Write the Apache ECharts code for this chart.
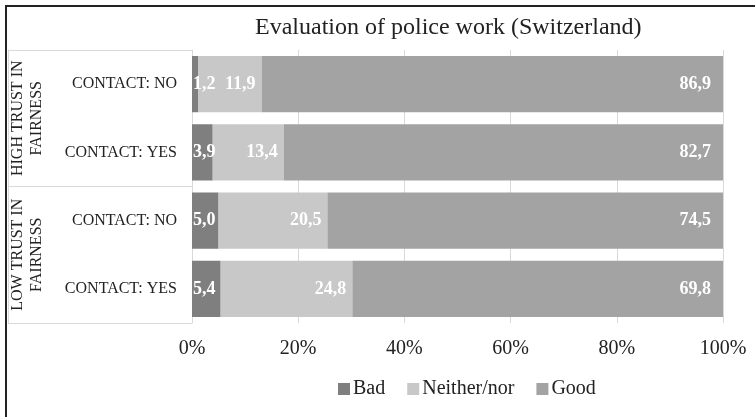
<!DOCTYPE html>
<html>
<head>
<meta charset="utf-8">
<script src="https://cdn.jsdelivr.net/npm/echarts@6/dist/echarts.min.js"></script>
<style>html,body{margin:0;padding:0;background:#fff}#c{width:755px;height:417px}</style>
</head>
<body>
<div id="c"></div>
<script>
var groups = ['HIGH TRUST IN\nFAIRNESS', 'LOW TRUST IN\nFAIRNESS'];
var categories = ['High|CONTACT: NO', 'High|CONTACT: YES', 'Low|CONTACT: NO', 'Low|CONTACT: YES'];
var bad = [1.2, 3.9, 5.0, 5.4];
var neither = [11.9, 13.4, 20.5, 24.8];
var good = [86.9, 82.7, 74.5, 69.8];
var xTicks = [0, 20, 40, 60, 80, 100];

var FONT = "'Liberation Serif', 'Times New Roman', serif";
function fmt(p) { return p.value.toFixed(1).replace('.', ','); }
var labelBase = { show: true, color: '#fff', fontWeight: 'bold', fontSize: 18, fontFamily: FONT, formatter: fmt };

var chart = echarts.init(document.getElementById('c'), null, { renderer: 'canvas' });
chart.setOption({
  animation: false,
  title: {
    text: 'Evaluation of police work (Switzerland)',
    left: 250, top: 11,
    textStyle: { fontFamily: FONT, fontWeight: 'normal', fontSize: 24, color: '#222' }
  },
  legend: {
    left: 333, top: 374, icon: 'rect', itemWidth: 12, itemHeight: 12, itemGap: 22,
    textStyle: { fontFamily: FONT, fontSize: 20, color: '#222', padding: [0, 0, 0, -2] },
    data: ['Bad', 'Neither/nor', 'Good']
  },
  grid: { left: 192, right: 32, top: 50, bottom: 94, containLabel: false },
  xAxis: {
    type: 'value', min: 0, max: 100, interval: 20,
    axisLine: { show: false }, axisTick: { show: false },
    splitLine: { show: true, lineStyle: { color: '#d9d9d9', width: 1 } },
    axisLabel: { margin: 16, fontFamily: FONT, fontSize: 20, color: '#222',
      formatter: function (v) { return xTicks.indexOf(v) >= 0 ? v + '%' : ''; } }
  },
  yAxis: [
    {
      type: 'category', inverse: true, data: categories,
      axisLine: { show: false }, axisTick: { show: false },
      axisLabel: { interval: 0, margin: 15, fontFamily: FONT, fontSize: 16, color: '#222',
        formatter: function (v) { return v.split('|')[1]; } }
    },
    {
      type: 'category', inverse: true, data: groups, position: 'left',
      axisLine: { show: true, lineStyle: { color: '#d9d9d9', width: 1 } },
      axisTick: { show: true, interval: 0, length: 184, lineStyle: { color: '#d9d9d9', width: 1 } },
      axisLabel: { interval: 0, hideOverlap: false, margin: 165, rotate: 90, align: 'center', verticalAlign: 'middle',
        lineHeight: 19, fontFamily: FONT, fontSize: 16, color: '#222' }
    },
    {
      type: 'category', inverse: true, data: groups, position: 'left', offset: 184,
      axisLine: { show: true, lineStyle: { color: '#d9d9d9', width: 1 } },
      axisTick: { show: false }, axisLabel: { show: false }
    }
  ],
  series: [
    { name: 'Bad', type: 'bar', stack: 's', data: bad, barCategoryGap: '17.6%',
      itemStyle: { color: '#7f7f7f' },
      label: Object.assign({}, labelBase, { position: 'insideLeft', distance: 1 }) },
    { name: 'Neither/nor', type: 'bar', stack: 's', data: neither,
      itemStyle: { color: '#c8c8c8' },
      label: Object.assign({}, labelBase, { position: 'insideRight', distance: 6 }) },
    { name: 'Good', type: 'bar', stack: 's', data: good,
      itemStyle: { color: '#a3a3a3' },
      label: Object.assign({}, labelBase, { position: 'insideRight', distance: 12 }) }
  ],
  graphic: [
    { type: 'line', shape: { x1: 5, y1: 6, x2: 755, y2: 6 }, style: { stroke: '#222', lineWidth: 2 } },
    { type: 'line', shape: { x1: 6, y1: 5, x2: 6, y2: 417 }, style: { stroke: '#222', lineWidth: 2 } }
  ]
});
</script>
</body>
</html>
